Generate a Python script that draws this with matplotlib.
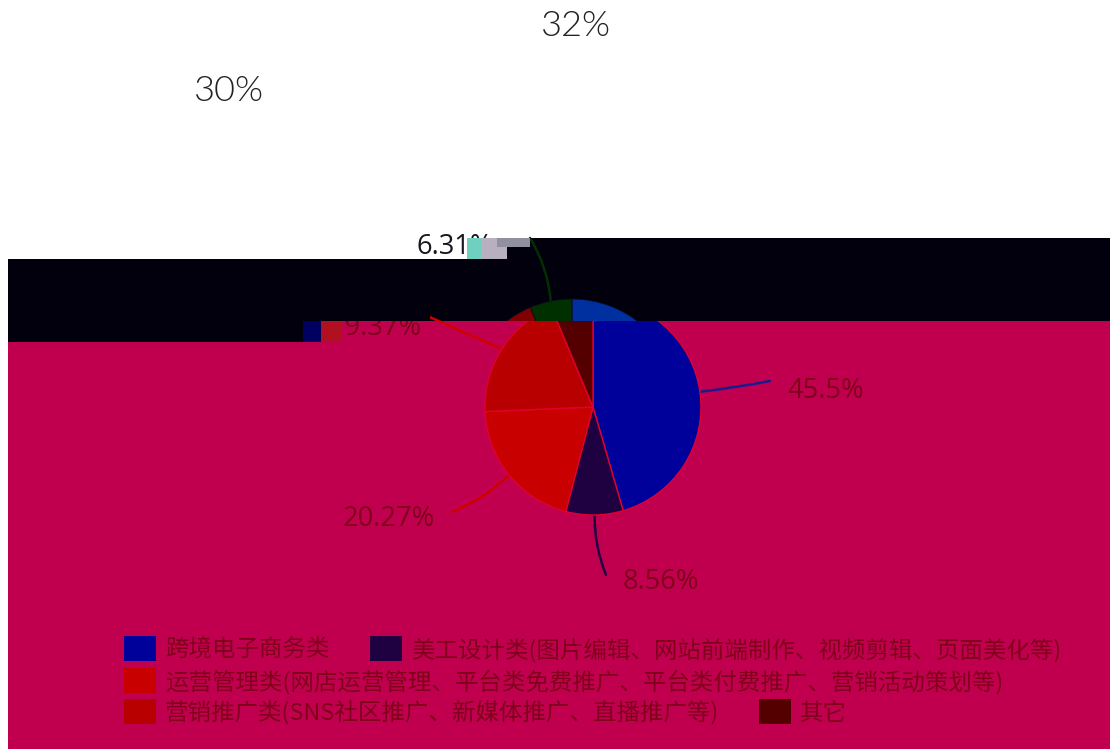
import numpy as np
import matplotlib
matplotlib.use('Agg')
import matplotlib.pyplot as plt
from matplotlib.patches import Rectangle

plt.rcParams['font.family'] = ['Noto Sans CJK SC', 'DejaVu Sans']

categories = ['跨境电子商务类', '美工设计类(图片编辑、网站前端制作、视频剪辑、页面美化等)',
              '运营管理类(网店运营管理、平台类免费推广、平台类付费推广、营销活动策划等)',
              '营销推广类(SNS社区推广、新媒体推广、直播推广等)', '其它']
values = [45.5, 8.56, 20.27, 19.37, 6.31]
value_labels = ['45.5%', '8.56%', '20.27%', '19.37%', '6.31%']
lower_colors = ['#00009a', '#1f0040', '#c80000', '#b80000', '#550000']
upper_colors = ['#0030a0', '#1f0040', '#c80000', '#800000', '#003000']
line_colors = ['#1a1a90', '#1f0040', '#d00000', '#d00000', '#003000']
CRIMSON = '#c0004e'
BLACK = '#02000c'
LABEL = '#80001a'

fig = plt.figure(figsize=(11.10, 7.49), dpi=100, facecolor='white')
ax = fig.add_axes([0, 0, 1, 1])

cx, cy, r = 593, -407, 108
shift = 21

w1, _ = ax.pie(values, colors=lower_colors, startangle=90, counterclock=False, center=(cx, cy), radius=r,
               frame=True, wedgeprops=dict(edgecolor='#e00030', linewidth=1.0, zorder=3))
w2, _ = ax.pie(values, colors=upper_colors, startangle=90, counterclock=False, center=(cx - shift, cy), radius=r,
               frame=True, wedgeprops=dict(edgecolor='#0a0a20', linewidth=0.6, zorder=3))
ax.set_xlim(0, 1110)
ax.set_ylim(-749, 0)
ax.set_aspect('auto')
ax.axis('off')

ax.add_patch(Rectangle((8, -749), 1102, 749 - 321, fc=CRIMSON, ec='none', zorder=0))
ax.add_patch(Rectangle((8, -342), 332, 21, fc=BLACK, ec='none', zorder=1))
ax.add_patch(Rectangle((8, -321), 1102, 62, fc=BLACK, ec='none', zorder=1))
ax.add_patch(Rectangle((505, -259), 605, 21, fc=BLACK, ec='none', zorder=1))

for w in w1:
    w.set_clip_on(True)
    w.set_clip_path(Rectangle((0, -749), 1110, 749 - 321, transform=ax.transData))
for w in w2:
    w.set_clip_on(True)
    w.set_clip_path(Rectangle((0, -321), 1110, 83, transform=ax.transData))

# leader lines start on the slice's mid angle
mids = (np.cumsum(values) - np.array(values) / 2) / sum(values) * 2 * np.pi
label_pos = [(826, 391), (661, 582), (389, 519), (376, 328), (455, 247)]
line_end = [(770, -381), (606, -575), (452, -512), (425, -315), (530, -238)]
rads = [0.02, 0.1, -0.1, 0.0, 0.12]
for i, v in enumerate(values):
    c = cx - shift if i == 4 else cx
    sx, sy = c + r * np.sin(mids[i]), cy + r * np.cos(mids[i])
    ax.annotate('', xy=line_end[i], xytext=(sx, sy), zorder=2,
                arrowprops=dict(arrowstyle='-', color=line_colors[i], lw=1.8,
                                connectionstyle=f'arc3,rad={rads[i]}', shrinkA=0, shrinkB=0))
    col = '#16161c' if i == 4 else LABEL
    ax.text(label_pos[i][0], -label_pos[i][1], value_labels[i], color=col, fontsize=19.6, ha='center', va='center',
            family=['Open Sans', 'DejaVu Sans'], zorder=4)

# glitch blocks hiding part of the 19.37% label
ax.add_patch(Rectangle((321, -342), 20, 21, fc='#b01020', ec='none', zorder=5))
ax.add_patch(Rectangle((303, -342), 18, 21, fc='#000060', ec='none', zorder=5))
ax.add_patch(Rectangle((300, -321), 130, 21, fc=BLACK, ec='none', zorder=5))
# glitch blocks hiding the end of the 6.31% label
ax.add_patch(Rectangle((467, -259), 40, 21, fc='#b8b0c0', ec='none', zorder=5))
ax.add_patch(Rectangle((467, -259), 14, 21, fc='#70d0c0', ec='none', zorder=5))
ax.add_patch(Rectangle((497, -247), 33, 9, fc='#9090a0', ec='none', zorder=5))

ax.text(576, -26, '32%', color='#222222', fontsize=26, ha='center', va='center',
        family=['Lato', 'DejaVu Sans'], fontweight=300)
ax.text(229, -91, '30%', color='#222222', fontsize=26, ha='center', va='center',
        family=['Lato', 'DejaVu Sans'], fontweight=300)

# legend
leg_rows = [[(124, 0), (370, 1)], [(124, 2)], [(124, 3), (759, 4)]]
row_y = [648, 680, 711]
for row, y in zip(leg_rows, row_y):
    for x, i in row:
        ax.add_patch(Rectangle((x, -y - 12.5), 32, 25, fc=lower_colors[i], ec='none', zorder=3))
        ax.text(x + 41, -y - 2, categories[i], color=LABEL, fontsize=16.9, ha='left', va='center', zorder=3)

fig.savefig('out.png', dpi=100, facecolor='white')
